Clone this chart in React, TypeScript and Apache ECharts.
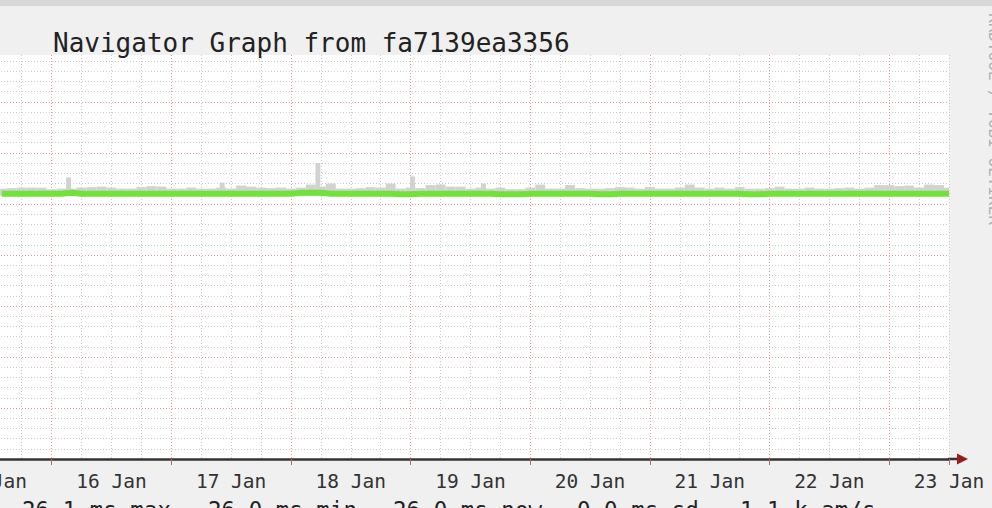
import React, { useEffect, useRef } from 'react';
import * as echarts from 'echarts';

// ---- data ----
const dayLabels = ['15 Jan', '16 Jan', '17 Jan', '18 Jan', '19 Jan', '20 Jan', '21 Jan', '22 Jan', '23 Jan'];
const FIRST_HOUR = 14; // hours after 15 Jan 00:00
const STEP_HOURS = 2;
const medianMs = [
  26.0, 26.0, 26.0, 26.0, 26.0, 26.0, 26.0, 26.1, 26.0, 26.0,
  26.0, 26.0, 26.0, 26.0, 26.0, 26.0, 26.0, 26.0, 26.0, 26.0,
  26.0, 26.0, 26.0, 26.0, 26.0, 26.0, 26.0, 26.0, 26.0, 26.0,
  26.1, 26.1, 26.1, 26.0, 26.0, 26.0, 26.0, 26.0, 26.0, 26.0,
  25.95, 25.95, 26.0, 26.0, 26.0, 26.0, 26.0, 26.0, 26.0, 26.0,
  25.95, 25.95, 25.95, 26.0, 26.0, 26.0, 26.0, 26.0, 26.0, 26.0,
  25.95, 25.95, 26.0, 26.0, 26.0, 26.0, 26.0, 26.0, 26.0, 26.0,
  26.0, 26.0, 26.0, 26.0, 26.0, 25.95, 25.95, 26.0, 26.0, 26.0,
  26.0, 26.0, 26.0, 26.0, 26.0, 26.0, 26.0, 26.0, 26.0, 26.0,
  26.0, 26.0, 26.0, 26.0, 26.0, 26.0,
];
const smokeTopMs = [
  26.5, 26.55, 26.6, 26.6, 26.6, 26.45, 26.5, 26.5, 26.6, 26.65,
  26.7, 26.6, 26.5, 26.5, 26.65, 26.75, 26.7, 26.5, 26.5, 26.6,
  26.5, 26.5, 26.6, 26.5, 26.8, 26.7, 26.6, 26.55, 26.6, 26.5,
  26.6, 26.9, 26.7, 27.0, 26.5, 26.5, 26.55, 26.65, 26.6, 27.0,
  26.5, 26.6, 26.55, 26.85, 26.9, 26.7, 26.7, 26.5, 26.6, 26.5,
  26.6, 26.45, 26.45, 26.6, 26.9, 26.5, 26.5, 26.85, 26.55, 26.5,
  26.5, 26.55, 26.65, 26.6, 26.5, 26.65, 26.5, 26.5, 26.6, 26.9,
  26.6, 26.5, 26.6, 26.5, 26.65, 26.5, 26.5, 26.55, 26.7, 26.5,
  26.5, 26.6, 26.5, 26.5, 26.55, 26.6, 26.5, 26.6, 26.85, 26.85,
  26.75, 26.8, 26.6, 26.9, 26.85, 26.6,
];
const spikeHours = [27.4, 58.2, 77.4, 96.4, 110.6];
const spikeTopMs = [27.6, 27.1, 29.0, 27.7, 27.0];
const SMOKE_FLOOR_MS = 25.8;
const footerItems = ['26.1 ms max', '26.0 ms min', '26.0 ms now', '0.0 ms sd', '1.1 k am/s'];
const titleText = 'Navigator Graph from fa7139ea3356';
const watermarkText = 'RRDTOOL / TOBI OETIKER';

const MONO = '"DejaVu Sans Mono", "Liberation Mono", monospace';
const OX = 71; // the chart canvas starts 71px left of the visible page

export default function App() {
  const ref = useRef<HTMLDivElement>(null);

  useEffect(() => {
    if (!ref.current) return;
    const chart = echarts.init(ref.current, undefined, { renderer: 'svg' });

    const sampleHours = medianMs.map((_, i) => FIRST_HOUR + STEP_HOURS * i);
    const medianData = medianMs.map((v, i) => [sampleHours[i], v]);
    const smokeData: number[][] = smokeTopMs.map((v, i) => [sampleHours[i], SMOKE_FLOOR_MS, v, STEP_HOURS]);
    spikeHours.forEach((h, i) => smokeData.push([h, SMOKE_FLOOR_MS, spikeTopMs[i], 1]));

    const footerX = [22, 208, 393, 577, 740];
    const RED = '#e89a9a';
    const GRAY = '#cccccc';

    chart.setOption({
      animation: false,
      backgroundColor: '#f0f0f0',
      grid: {
        left: 0,
        right: 43,
        top: 55,
        bottom: 49,
        show: true,
        backgroundColor: '#ffffff',
        borderWidth: 0,
        containLabel: false,
      },
      xAxis: [
        {
          type: 'value',
          min: 0,
          max: 204,
          interval: 6,
          axisLine: { show: true, lineStyle: { color: '#333333', width: 2.5 } },
          axisTick: { show: false },
          axisLabel: {
            show: true,
            margin: 12,
            fontFamily: MONO,
            fontSize: 19.5,
            color: '#333333',
            showMinLabel: true,
            showMaxLabel: true,
            formatter: (v: number) => ((v - 12) % 24 === 0 ? dayLabels[(v - 12) / 24] : ''),
          },
          splitLine: { show: true, lineStyle: { color: [RED, GRAY, GRAY, GRAY], type: [1, 2], width: 1 } },
        },
        {
          type: 'value',
          min: 0,
          max: 204,
          interval: 24,
          position: 'bottom',
          axisLine: { show: false },
          axisTick: { show: true, length: 6, lineStyle: { color: '#c06060', width: 1 } },
          axisLabel: { show: false },
          splitLine: { show: false },
        },
      ],
      yAxis: [
        {
          type: 'value',
          min: 0,
          max: 39.6,
          interval: 1,
          axisLine: { show: false },
          axisTick: { show: false },
          axisLabel: { show: false },
          splitLine: {
            show: true,
            showMaxLine: false,
            lineStyle: { color: [RED, GRAY, GRAY, GRAY, GRAY], type: [1, 2], width: 1 },
          },
        },
      ],
      series: [
        {
          type: 'custom',
          name: 'smoke',
          xAxisIndex: 0,
          yAxisIndex: 0,
          z: 2,
          clip: true,
          data: smokeData,
          renderItem: (_params: any, api: any) => {
            const x = api.value(0);
            const lo = api.value(1);
            const hi = api.value(2);
            const w = api.value(3);
            const p1 = api.coord([x - w / 2, hi]);
            const p2 = api.coord([x + w / 2, lo]);
            return {
              type: 'rect',
              shape: { x: p1[0], y: p1[1], width: p2[0] - p1[0], height: p2[1] - p1[1] },
              style: { fill: '#d2d2d2' },
            };
          },
        },
        {
          type: 'line',
          name: 'median rtt',
          xAxisIndex: 0,
          yAxisIndex: 0,
          z: 3,
          symbol: 'none',
          data: medianData,
          lineStyle: { color: '#70e23a', width: 6 },
        },
      ],
      graphic: [
        { type: 'rect', x: OX, y: 0, shape: { width: 992, height: 6 }, style: { fill: '#d8d8d8' }, silent: true },
        {
          type: 'text',
          x: OX + 53,
          y: 43,
          style: { text: titleText, font: `26px ${MONO}`, fill: '#222222', textVerticalAlign: 'middle' },
          silent: true,
        },
        { type: 'line', shape: { x1: OX + 948, y1: 459, x2: OX + 958, y2: 459 }, style: { stroke: '#333333', lineWidth: 2.5 }, silent: true },
        {
          type: 'polygon',
          shape: { points: [[OX + 957, 453.5], [OX + 968, 459], [OX + 957, 464.5]] },
          style: { fill: '#9b1c1c' },
          silent: true,
        },
        {
          type: 'text',
          x: OX + 994,
          y: 13,
          rotation: -Math.PI / 2,
          style: { text: watermarkText, font: `16px ${MONO}`, fill: '#b0b0b0', textVerticalAlign: 'middle', textAlign: 'left' },
          silent: true,
        },
        ...footerItems.map((t, i) => ({
          type: 'text',
          x: OX + footerX[i],
          y: 510,
          style: { text: t, font: `22.5px ${MONO}`, fill: '#222222', textVerticalAlign: 'middle' },
          silent: true,
        })),
      ],
    });

    return () => chart.dispose();
  }, []);

  return (
    <div style={{ position: 'fixed', left: 0, top: 0, width: 992, height: 508, overflow: 'hidden', background: '#f0f0f0' }}>
      <div ref={ref} style={{ position: 'absolute', left: -OX, top: 0, width: 992 + OX, height: 508 }} />
    </div>
  );
}
